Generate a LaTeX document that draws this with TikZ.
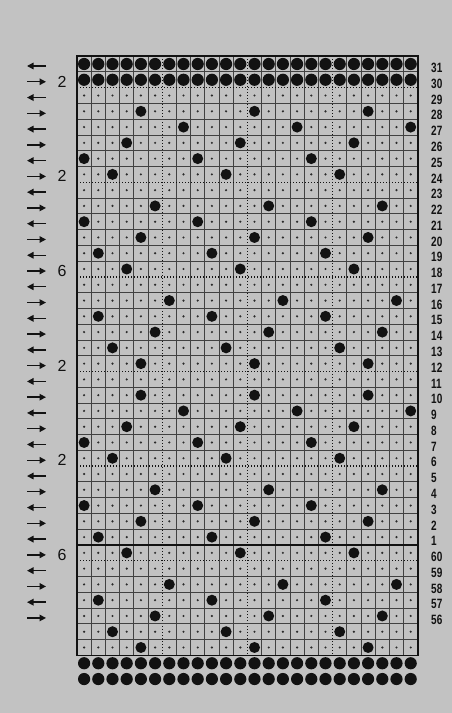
\documentclass[tikz,border=0pt]{standalone}
\usepackage{xcolor}
\usepackage{fontspec}
\setmainfont{Liberation Sans}
\newfontfamily\numfont[FakeStretch=0.74]{Liberation Sans}
\usepackage{tikz}
\usetikzlibrary{arrows.meta}
\definecolor{card}{RGB}{194,194,194}
\definecolor{ink}{RGB}{18,18,18}

\begin{document}
\begin{tikzpicture}[x=1pt,y=-1pt,>={Triangle[length=6.5pt,width=6.5pt]},
 hole/.style={fill=ink},
 pin/.style={fill=ink!90},
 gridline/.style={draw=ink!80,line width=0.8pt},
 dotline/.style={draw=ink,line width=1.4pt,dash pattern=on 1.2pt off 1.8pt},
 rowarrow/.style={draw=ink,line width=1.4pt,->},
 rownum/.style={anchor=west,inner sep=0pt,text=ink,font=\numfont\bfseries\fontsize{13.5}{13.5}\selectfont},
 repnum/.style={inner sep=0pt,text=ink,font=\fontsize{16}{16}\selectfont}]
\useasboundingbox[fill=card] (0,0) rectangle (452,713);

% small marks in every cell of the card
\foreach \k in {2,...,37}
  \foreach \c in {1,...,24}
    \fill[pin] ({84.1+14.2*(\c-1)},{64+15.77*\k}) circle (1.2);

% grid
\foreach \j in {1,...,23}{
  \pgfmathtruncatemacro\md{mod(\j,6)}
  \ifnum\md=0 \def\st{dotline}\else\def\st{gridline}\fi
  \draw[\st] ({77+14.2*\j},56.1) -- ({77+14.2*\j},655.4);
}
\foreach \m in {1,...,37}{
  \pgfmathtruncatemacro\md{mod(\m+4,6)}
  \ifnum\md=0 \def\st{dotline}\else\def\st{gridline}\fi
  \draw[\st] (77,{56.1+15.77*\m}) -- (417.8,{56.1+15.77*\m});
}
\draw[ink,line width=1.3pt] (77,{56.1+15.77*31}) -- (417.8,{56.1+15.77*31});
\draw[ink,line width=1.4pt] (77,56.1) rectangle (417.8,655.4);

% full rows top and bottom
\foreach \k in {0,1,38,39}
  \foreach \c in {1,...,24}
    \fill[hole] ({84.1+14.2*(\c-1)},{64+15.77*\k}) circle (6.1);

% punched pattern, repeat of 8 stitches
\foreach \k/\c in {3/5,4/8,5/4,6/1,7/3,9/6,10/1,11/5,12/2,13/4,15/7,16/2,17/6,18/3,19/5,
  21/5,22/8,23/4,24/1,25/3,27/6,28/1,29/5,30/2,31/4,33/7,34/2,35/6,36/3,37/5}
  \foreach \r in {0,8,16}
    \fill[hole] ({84.1+14.2*(\c+\r-1)},{64+15.77*\k}) circle (5.5);

% carriage direction
\foreach \k in {0,...,35}{
  \coordinate (al\k) at (27,{66+15.77*\k});
  \coordinate (ar\k) at (46,{66+15.77*\k});
  \pgfmathtruncatemacro\md{mod(\k,2)}
  \ifnum\md=0 \draw[rowarrow] (ar\k) -- (al\k);
  \else \draw[rowarrow] (al\k) -- (ar\k);\fi
}

% repeats
\foreach \k/\t in {1/2,7/2,13/6,19/2,25/2,31/6}
  \node[repnum] (rep\k) at (62,{66+15.77*\k}) {\t};

% row numbers
\foreach \k in {0,...,35}{
  \pgfmathtruncatemacro\n{\k<31 ? 31-\k : 91-\k}
  \node[rownum] (n\k) at (431,{68+15.77*\k}) {\n};
}
\end{tikzpicture}
\end{document}
